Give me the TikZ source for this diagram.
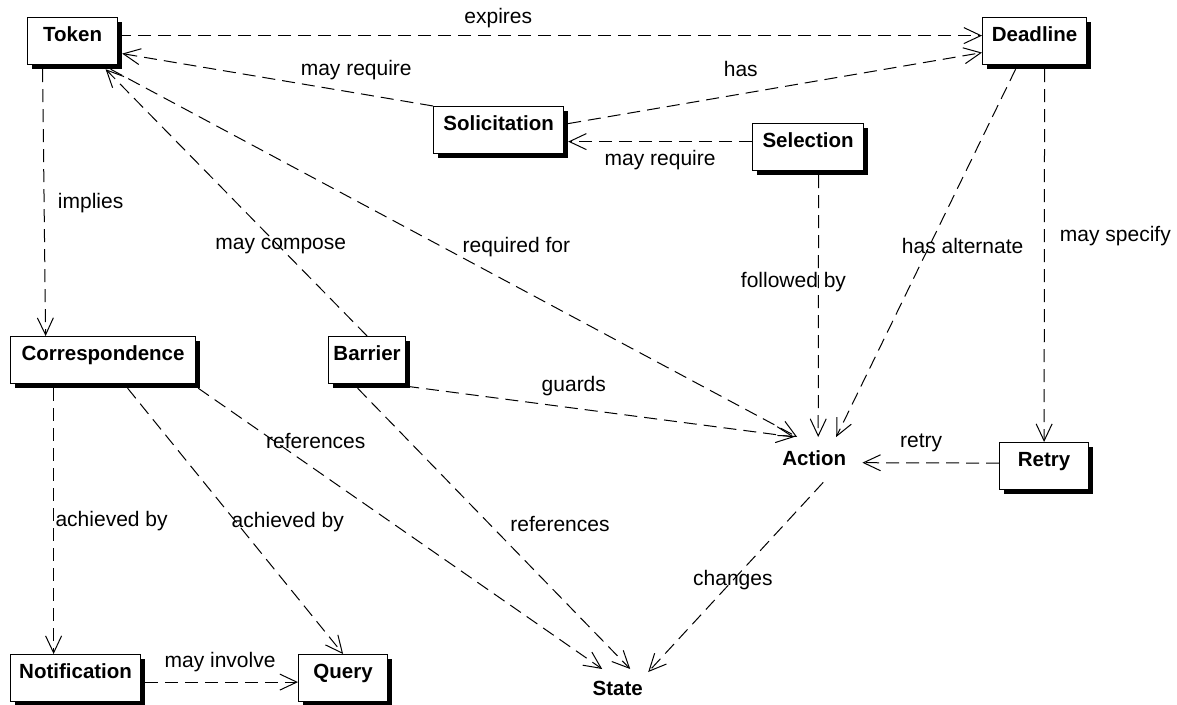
\documentclass[tikz,border=0pt]{standalone}
\usepackage{fontspec}
\setmainfont{Liberation Sans}
\usetikzlibrary{arrows.meta}
\usetikzlibrary{shadows}

\begin{document}
\begin{tikzpicture}[x=1pt,y=-1pt,
  cls/.style={draw,line width=1.2pt,fill=white,anchor=north west,font=\fontsize{20.5}{24}\selectfont\bfseries,inner xsep=0pt,inner ysep=3pt,text height=21pt,text depth=20pt,drop shadow={shadow xshift=4pt,shadow yshift=-4pt,opacity=1,fill=black}},
  bare/.style={anchor=north west,font=\fontsize{20.5}{24}\selectfont\bfseries,inner xsep=0pt,inner ysep=3pt},
  dep/.style={line width=1pt,dash pattern=on 13pt off 7pt,-{Straight Barb[length=17pt,width=16pt]}},
  lbl/.style={font=\fontsize{21}{25}\selectfont,inner sep=0pt}]
\useasboundingbox (0,0) rectangle (1177,704);

\node[cls,minimum width=90pt](token) at (27,17) {Token};
\node[cls,minimum width=104pt](deadline) at (982,17) {Deadline};
\node[cls,minimum width=130pt](solic) at (433,106) {Solicitation};
\node[cls,minimum width=111pt](selection) at (752,123) {Selection};
\node[cls,minimum width=185pt](corr) at (10,336) {Correspondence};
\node[cls,minimum width=77pt](barrier) at (328,336) {Barrier};
\node[cls,minimum width=89pt](retry) at (999,442) {Retry};
\node[cls,minimum width=130pt](notif) at (10,654) {Notification};
\node[cls,minimum width=89pt](query) at (298,654) {Query};
\node[bare,minimum width=96pt,text height=25pt,text depth=14pt](action) at (766,437) {Action};
\node[bare,minimum width=101pt,text height=23pt,text depth=6pt](state) at (567,669) {State};

\draw[dep] ([yshift=5.5pt]token.east) -- node[lbl,pos=.44,yshift=18pt]{expires} ([yshift=5.5pt]deadline.west);
\draw[dep] (solic.north west) -- node[lbl,pos=.247,yshift=23pt]{may require} ([xshift=4pt,yshift=-12.5pt]token.east);
\draw[dep] ([xshift=4pt,yshift=6.5pt]solic.east) -- node[lbl,pos=.417,yshift=25pt]{has} ([yshift=-11.5pt]deadline.west);
\draw[dep] ([yshift=5.5pt]selection.west) -- node[lbl,pos=.5,yshift=-18pt]{may require} ([xshift=4pt,yshift=-11.5pt]solic.east);
\draw[dep] ([xshift=-30pt,yshift=-4pt]token.south) -- node[lbl,pos=.5,xshift=46.5pt]{implies} ([xshift=-57.5pt]corr.north);
\draw[dep] (barrier.north) -- node[lbl,pos=.336,xshift=1.5pt]{may compose} ([xshift=33pt,yshift=-4pt]token.south);
\draw[dep] ([xshift=38pt,yshift=-4pt]token.south) -- node[lbl,pos=.591,yshift=40pt]{required for} ([xshift=-17pt]action.north);
\draw[dep] ([yshift=-2pt]barrier.south east) -- node[lbl,pos=.432,yshift=22.5pt]{guards} ([xshift=-20pt]action.north);
\draw[dep] ([xshift=10.5pt,yshift=-4pt]selection.south) -- node[lbl,pos=.41,xshift=-25pt]{followed by} ([xshift=4pt]action.north);
\draw[dep] ([xshift=-19pt,yshift=-4pt]deadline.south) -- node[lbl,pos=.482,xshift=33.5pt]{has alternate} ([xshift=22pt]action.north);
\draw[dep] ([xshift=10pt,yshift=-4pt]deadline.south) -- node[lbl,pos=.447,xshift=71pt]{may specify} (retry.north);
\draw[dep] ([yshift=3pt]retry.west) -- node[lbl,pos=.57,yshift=20pt]{retry} ([yshift=-3pt]action.east);
\draw[dep] ([xshift=2pt,yshift=-4pt]corr.south east) -- node[lbl,pos=.291,yshift=29pt]{references} ([xshift=-15.5pt]state.north);
\draw[dep] ([xshift=-9.5pt,yshift=-4pt]barrier.south) -- node[lbl,pos=.482,xshift=71pt]{references} ([xshift=12.5pt]state.north);
\draw[dep] ([xshift=9pt]action.south) -- node[lbl,pos=.516]{changes} ([xshift=30.5pt,yshift=-3pt]state.north);
\draw[dep] ([xshift=-49.5pt,yshift=-4pt]corr.south) -- node[lbl,pos=.5,xshift=58pt]{achieved by} ([xshift=-22pt]notif.north);
\draw[dep] ([xshift=24.5pt,yshift=-4pt]corr.south) -- node[lbl,pos=.502,xshift=52pt]{achieved by} (query.north);
\draw[dep] ([xshift=4pt,yshift=-4pt]notif.east) -- node[lbl,pos=.49,yshift=20.5pt]{may involve} ([yshift=-4pt]query.west);
\end{tikzpicture}
\end{document}
